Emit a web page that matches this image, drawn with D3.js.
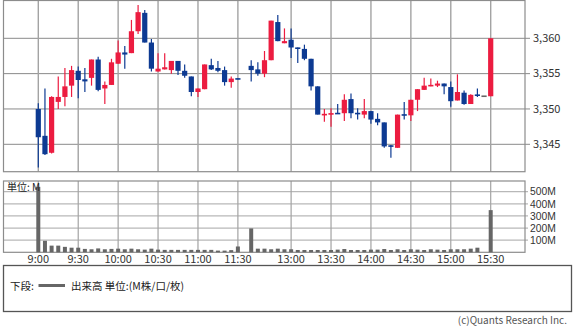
<!DOCTYPE html>
<html>
<head>
<meta charset="utf-8">
<script src="https://cdn.jsdelivr.net/npm/d3@7"></script>
<style>
  body { margin: 0; background: #fff; }
  svg text { font-family: "Noto Sans CJK JP", "Noto Sans", sans-serif; }
  svg text.vol-label { font-family: "Liberation Sans", Arial, sans-serif; }
</style>
</head>
<body>
<div id="chart"></div>
<script>
// 5-minute candles (morning 9:00-11:30, afternoon 12:30-15:30)
const times = [
  "9:00","9:05","9:10","9:15","9:20","9:25","9:30","9:35","9:40","9:45","9:50","9:55",
  "10:00","10:05","10:10","10:15","10:20","10:25","10:30","10:35","10:40","10:45","10:50","10:55",
  "11:00","11:05","11:10","11:15","11:20","11:25","11:30",
  "12:30","12:35","12:40","12:45","12:50","12:55",
  "13:00","13:05","13:10","13:15","13:20","13:25","13:30","13:35","13:40","13:45","13:50","13:55",
  "14:00","14:05","14:10","14:15","14:20","14:25","14:30","14:35","14:40","14:45","14:50","14:55",
  "15:00","15:05","15:10","15:15","15:20","15:25","15:30"
];
const open = [
  3350.0,3346.2,3343.8,3351.0,3351.7,3353.3,3355.4,3354.2,3354.4,3357.0,3352.9,3353.4,
  3356.4,3358.0,3357.9,3361.0,3363.6,3359.4,3355.3,3355.6,3355.5,3356.8,3355.4,3354.6,
  3352.4,3352.8,3356.2,3355.8,3355.5,3353.8,3354.3,
  3356.1,3355.6,3355.0,3356.9,3362.3,3359.3,
  3359.8,3358.7,3358.5,3357.1,3353.2,3349.1,3349.2,3349.4,3349.4,3351.4,3349.4,3349.2,
  3349.7,3348.6,3348.1,3344.8,3344.5,3349.2,3349.1,3351.3,3352.7,3353.2,3353.3,3353.6,
  3353.1,3351.2,3352.3,3350.7,3352.0,3351.8,3351.8
];
const high = [
  3350.8,3352.9,3351.8,3354.6,3355.8,3356.1,3356.0,3355.8,3357.0,3357.4,3353.9,3357.1,
  3359.7,3358.9,3362.6,3364.7,3364.0,3359.9,3357.9,3357.9,3356.8,3356.8,3356.3,3354.6,
  3352.9,3356.3,3357.1,3356.8,3356.0,3354.6,3354.3,
  3356.9,3356.6,3358.2,3362.5,3363.3,3361.4,
  3361.4,3358.7,3359.1,3357.1,3353.2,3350.0,3350.1,3350.7,3352.1,3352.2,3350.1,3351.4,
  3349.7,3349.4,3348.1,3344.9,3349.2,3351.0,3351.3,3352.8,3354.4,3354.3,3354.0,3353.6,
  3353.9,3354.9,3352.6,3352.1,3352.9,3351.8,3360.0
];
const low = [
  3341.7,3343.5,3343.7,3350.0,3350.4,3351.7,3351.5,3352.4,3353.3,3352.5,3350.7,3353.4,
  3356.4,3355.7,3357.9,3360.6,3359.4,3355.3,3355.3,3355.6,3355.0,3354.8,3354.4,3351.8,
  3351.7,3352.8,3355.5,3355.2,3353.3,3353.0,3354.2,
  3353.9,3354.7,3354.5,3356.9,3359.6,3359.3,
  3357.2,3356.5,3356.9,3352.6,3349.2,3348.2,3347.5,3349.3,3348.3,3348.7,3348.5,3348.7,
  3347.9,3347.7,3344.5,3343.1,3344.5,3348.5,3348.3,3349.7,3352.7,3353.2,3353.1,3352.1,
  3350.3,3351.2,3350.6,3350.7,3351.7,3351.8,3351.8
];
const close = [
  3346.0,3343.6,3351.7,3351.7,3353.2,3355.5,3354.1,3353.9,3357.0,3352.7,3353.4,3356.6,
  3358.0,3357.7,3361.0,3363.7,3359.4,3355.7,3355.7,3355.9,3356.8,3355.4,3354.7,3352.4,
  3352.9,3356.3,3355.6,3355.4,3353.8,3354.3,3354.2,
  3355.5,3355.0,3356.9,3362.5,3359.6,3359.6,
  3358.7,3358.5,3357.1,3353.2,3349.2,3349.3,3349.4,3349.3,3351.3,3349.4,3349.3,3349.7,
  3348.5,3348.1,3344.7,3344.7,3349.2,3349.1,3351.3,3352.8,3353.3,3353.4,3353.6,3353.2,
  3351.1,3352.4,3350.7,3352.0,3351.9,3351.8,3360.0
];
// volume in millions
const volume = [
  540,95,55,55,45,38,38,28,25,32,25,28,
  30,25,30,25,22,30,22,20,20,20,20,20,
  20,20,20,14,14,18,48,
  197,30,30,25,30,25,
  25,19,19,19,19,19,19,22,27,19,19,19,
  22,22,27,19,25,19,25,22,19,25,22,19,
  25,25,25,30,38,0,348
];

const tickTimes = ["9:00","9:30","10:00","10:30","11:00","11:30","13:00","13:30","14:00","14:30","15:00","15:30"];
const priceTicks = [3345, 3350, 3355, 3360];
const volTicks = [100, 200, 300, 400, 500];

// slot domain: morning slots, one empty slot for the lunch break, afternoon slots
const slotDomain = times.slice(0, 31).concat(["lunch"], times.slice(31));

const width = 575, height = 326;
const plot = { left: 3.5, right: 525 };
const pricePanel = { top: 0.5, bottom: 171.7 };
const volPanel = { top: 181, bottom: 252.3 };

const red = "#ec1c40", blue = "#0d3a92", flat = "#666";

const svg = d3.select("#chart").append("svg")
  .attr("width", width)
  .attr("height", height);

const x = d3.scalePoint().domain(slotDomain).range([38.3, 490.7]);
const y = d3.scaleLinear().domain([3345, 3360]).range([144.3, 38.3]);
const yVol = d3.scaleLinear().domain([0, 500]).range([volPanel.bottom, 191.7]);

const candles = times.map((t, i) => ({
  time: t, open: open[i], high: high[i], low: low[i], close: close[i], volume: volume[i]
}));

function candleColor(d) {
  if (d.close > d.open) return red;
  if (d.close < d.open) return blue;
  return flat;
}

// ---- price panel ----
svg.append("g")
  .selectAll("line")
  .data(priceTicks)
  .join("line")
  .attr("x1", plot.left).attr("x2", plot.right + 5)
  .attr("y1", d => y(d)).attr("y2", d => y(d))
  .attr("stroke", "#8a8a8a")
  .attr("stroke-width", 1);

svg.append("g")
  .selectAll("line")
  .data(tickTimes)
  .join("line")
  .attr("x1", d => x(d)).attr("x2", d => x(d))
  .attr("y1", pricePanel.top).attr("y2", pricePanel.bottom)
  .attr("stroke", "#a3a3a3")
  .attr("stroke-width", 1.4);

svg.append("rect")
  .attr("x", plot.left).attr("y", pricePanel.top)
  .attr("width", plot.right - plot.left)
  .attr("height", pricePanel.bottom - pricePanel.top)
  .attr("fill", "none")
  .attr("stroke", "#8c8c8c")
  .attr("stroke-width", 1.2);

svg.append("g")
  .selectAll("text")
  .data(priceTicks)
  .join("text")
  .attr("x", 533)
  .attr("y", d => y(d))
  .attr("dy", "0.35em")
  .attr("font-size", 11)
  .attr("fill", "#333")
  .text(d => d3.format(",")(d));

const candleG = svg.append("g");
candleG.selectAll("line")
  .data(candles)
  .join("line")
  .attr("x1", d => x(d.time)).attr("x2", d => x(d.time))
  .attr("y1", d => y(d.high)).attr("y2", d => y(d.low))
  .attr("stroke", candleColor)
  .attr("stroke-width", 1.2);

candleG.selectAll("rect")
  .data(candles)
  .join("rect")
  .attr("x", d => x(d.time) - 2.6)
  .attr("width", 5.2)
  .attr("y", d => {
    const top = y(Math.max(d.open, d.close));
    const h = Math.abs(y(d.open) - y(d.close));
    return h < 1.6 ? (top + h / 2 - 0.8) : top;
  })
  .attr("height", d => Math.max(1.6, Math.abs(y(d.open) - y(d.close))))
  .attr("fill", candleColor);

// ---- volume panel ----
svg.append("g")
  .selectAll("line")
  .data(volTicks)
  .join("line")
  .attr("x1", plot.left).attr("x2", plot.right + 3)
  .attr("y1", d => yVol(d)).attr("y2", d => yVol(d))
  .attr("stroke", "#b8b8b8")
  .attr("stroke-width", 1.3);

svg.append("g")
  .selectAll("line")
  .data(tickTimes)
  .join("line")
  .attr("x1", d => x(d)).attr("x2", d => x(d))
  .attr("y1", volPanel.top).attr("y2", volPanel.bottom)
  .attr("stroke", "#a3a3a3")
  .attr("stroke-width", 1.2);

svg.append("rect")
  .attr("x", plot.left).attr("y", volPanel.top)
  .attr("width", plot.right - plot.left)
  .attr("height", volPanel.bottom - volPanel.top)
  .attr("fill", "none")
  .attr("stroke", "#8c8c8c")
  .attr("stroke-width", 1.2);

svg.append("g")
  .selectAll("rect")
  .data(candles)
  .join("rect")
  .attr("x", d => x(d.time) - 2)
  .attr("width", 4)
  .attr("y", d => yVol(d.volume))
  .attr("height", d => yVol(0) - yVol(d.volume))
  .attr("fill", "#666");

svg.append("text")
  .attr("x", 7).attr("y", 191)
  .attr("font-size", 10)
  .attr("fill", "#222")
  .text("単位: M");

svg.append("g")
  .selectAll("text")
  .data(volTicks)
  .join("text")
  .attr("class", "vol-label")
  .attr("x", 530)
  .attr("y", d => yVol(d))
  .attr("dy", "0.36em")
  .attr("font-size", 10.3)
  .attr("fill", "#333")
  .text(d => d + "M");

// time axis labels
svg.append("g")
  .selectAll("text")
  .data(tickTimes)
  .join("text")
  .attr("x", d => x(d))
  .attr("y", 262.5)
  .attr("text-anchor", "middle")
  .attr("font-size", 11)
  .attr("fill", "#333")
  .text(d => d);

// ---- legend box ----
svg.append("rect")
  .attr("x", 3.5).attr("y", 265.5)
  .attr("width", 568).attr("height", 46)
  .attr("fill", "none")
  .attr("stroke", "#555")
  .attr("stroke-width", 1.3);

svg.append("text")
  .attr("x", 10).attr("y", 289.5)
  .attr("font-size", 10.5)
  .attr("fill", "#222")
  .text("下段:");

svg.append("line")
  .attr("x1", 38.5).attr("x2", 65)
  .attr("y1", 285.5).attr("y2", 285.5)
  .attr("stroke", "#666")
  .attr("stroke-width", 3);

svg.append("text")
  .attr("x", 71).attr("y", 289.5)
  .attr("font-size", 10.5)
  .attr("fill", "#222")
  .text("出来高 単位:(M株/口/枚)");

svg.append("text")
  .attr("x", 567).attr("y", 323.5)
  .attr("text-anchor", "end")
  .attr("font-size", 10)
  .attr("fill", "#555")
  .text("(c)Quants Research Inc.");
</script>
</body>
</html>
